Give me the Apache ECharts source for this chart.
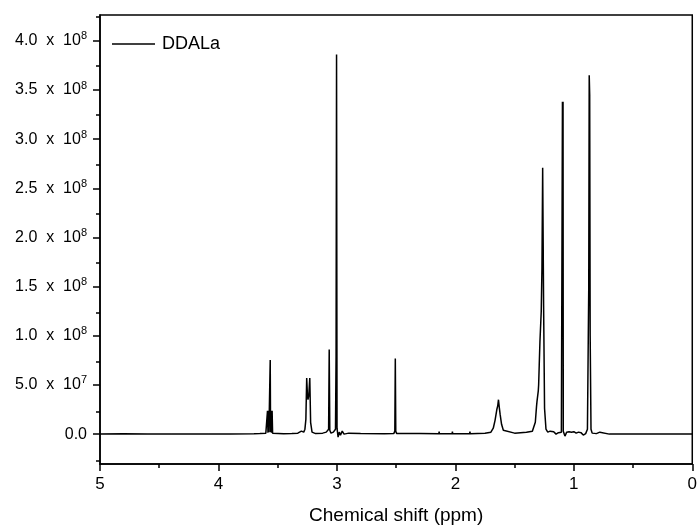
<!DOCTYPE html>
<html>
<head>
<meta charset="utf-8">
<script src="https://cdn.jsdelivr.net/npm/echarts@6/dist/echarts.min.js"></script>
<style>
html,body{margin:0;padding:0;background:#fff;}
#chart{width:700px;height:530px;}
</style>
</head>
<body>
<div id="chart"></div>
<script>
// Chemical shift (ppm) and intensity
const shift = [
  5.00, 4.80, 4.60, 4.40, 4.20, 4.08, 4.075, 4.07, 3.90, 3.70, 3.65, 3.60, 3.59,
  3.586, 3.582, 3.578, 3.574, 3.566, 3.563, 3.560, 3.555, 3.551, 3.547, 3.543, 3.53,
  3.45, 3.38, 3.33, 3.30, 3.295, 3.285, 3.28, 3.27, 3.262, 3.255, 3.249, 3.244, 3.237,
  3.229, 3.222, 3.21, 3.18, 3.12, 3.09, 3.07, 3.065, 3.06, 3.05, 3.03, 3.012, 3.007,
  3.003, 2.999, 2.99, 2.98, 2.97, 2.955, 2.94, 2.90, 2.80, 2.60, 2.52, 2.511, 2.507,
  2.503, 2.495, 2.30, 2.14, 2.137, 2.134, 2.028, 2.025, 2.022, 1.88, 1.877, 1.874,
  1.75, 1.70, 1.68, 1.665, 1.65, 1.642, 1.636, 1.630, 1.622, 1.61, 1.595, 1.58, 1.50,
  1.40, 1.35, 1.336, 1.325, 1.315, 1.311, 1.30, 1.297, 1.292, 1.286, 1.275, 1.269,
  1.263, 1.255, 1.247, 1.235, 1.22, 1.20, 1.19, 1.17, 1.15, 1.13, 1.105, 1.098, 1.096,
  1.094, 1.091, 1.089, 1.084, 1.075, 1.06, 1.04, 1.02, 1.00, 0.98, 0.96, 0.94, 0.92,
  0.90, 0.885, 0.878, 0.874, 0.870, 0.866, 0.862, 0.855, 0.845, 0.83, 0.81, 0.78,
  0.77, 0.70, 0.40, 0.00
];
const intensity = [
  2e5, 3e5, 1e5, 0, 1e5, 0, 1.2e6, 0, 1e5, 3e5, 5e5, 1e6, 1.5e6,
  2.37e7, 1.5e6, 2.37e7, 2e6, 2e6, 7.54e7, 2e6, 2.37e7, 1.5e6, 2.37e7, 1e6, 5e5,
  3e5, 5e5, 1e6, 3e6, 1e6, 4e6, 2e6, 5e6, 1.5e7, 5.7e7, 4.0e7, 3.5e7, 4.0e7,
  5.7e7, 1.2e7, 2e6, 5e5, 1e6, 2e6, 5e6, 8.6e7, 4e6, 1e6, 2e6, 5e6, 8.0e7,
  3.86e8, 6e6, -3e6, 2e6, -1e6, 3e6, 0, 1e6, 5e5, 3e5, 5e5, 3e6, 7.7e7,
  3e6, 5e5, 5e5, 3e5, 2.5e6, 3e5, 3e5, 2.5e6, 3e5, 3e5, 2.5e6, 3e5,
  8e5, 2e6, 6e6, 1.4e7, 2.5e7, 2.9e7, 3.5e7, 2.8e7, 2e7, 1e7, 4e6, 2e6, 1e6,
  2e6, 3e6, 5e6, 1.2e7, 2.8e7, 3.3e7, 4.4e7, 5.0e7, 7e7, 9.4e7, 1.25e8, 1.69e8,
  2.71e8, 1.3e8, 2.6e7, 5e6, 2e6, 3e6, 1e6, 2.5e6, 0, 1.5e6, 2e6, 3e6, 3.38e8,
  3.0e8, 3.38e8, 3e6, 3e6, -2e6, 2e6, 2.5e6, 2e6, 2.5e6, 1e6, 2e6, 1.5e6, -1e6,
  5e5, 5e6, 9.7e7, 1.48e8, 3.65e8, 3.45e8, 1.0e8, 5e6, 1e6, 2e6, 5e5, 2e6,
  0, 0, 0, 0
];
const seriesName = 'DDALa';
const yTickValues = [0, 5e7, 1e8, 1.5e8, 2e8, 2.5e8, 3e8, 3.5e8, 4e8];
const yTickBase = ['0.0', '5.0  x  10', '1.0  x  10', '1.5  x  10', '2.0  x  10', '2.5  x  10', '3.0  x  10', '3.5  x  10', '4.0  x  10'];
const yTickExp = ['', '7', '8', '8', '8', '8', '8', '8', '8'];
const yMinorTicks = [-2.5e7, 2.5e7, 7.5e7, 1.25e8, 1.75e8, 2.25e8, 2.75e8, 3.25e8, 3.75e8, 4.25e8];
const xTitle = 'Chemical shift (ppm)';

const data = shift.map((s, i) => [s, intensity[i]]);
const FONT = '"Liberation Sans", Arial, sans-serif';
const yMin = -3.04e7, yMax = 4.263e8;
const GRID = { left: 100, right: 5, top: 15, bottom: 64 };

const chart = echarts.init(document.getElementById('chart'));
chart.setOption({
  animation: false,
  backgroundColor: '#fff',
  textStyle: { fontFamily: FONT },
  grid: [
    Object.assign({ show: true, borderColor: '#000', borderWidth: 1.5, backgroundColor: 'transparent' }, GRID),
    Object.assign({ show: false }, GRID)
  ],
  legend: {
    left: 112, top: 35, padding: 0,
    icon: 'rect', itemWidth: 43, itemHeight: 1.5, itemGap: 7,
    textStyle: { fontFamily: FONT, fontSize: 18, color: '#000', padding: [0, 0, 0, 2] },
    data: [{ name: seriesName, itemStyle: { color: '#000' } }]
  },
  xAxis: [{
    type: 'value', min: 0, max: 5, interval: 1, inverse: true, gridIndex: 0,
    name: xTitle, nameLocation: 'middle', nameGap: 42,
    nameTextStyle: { fontFamily: FONT, fontSize: 19, color: '#000' },
    axisLine: { show: true, onZero: false, lineStyle: { color: '#000', width: 1.5 } },
    axisTick: { show: true, inside: false, length: 7, lineStyle: { color: '#000', width: 1.5 } },
    minorTick: { show: true, splitNumber: 2, length: 4, lineStyle: { color: '#000', width: 1.5 } },
    axisLabel: { fontFamily: FONT, fontSize: 17, color: '#000', margin: 12 },
    splitLine: { show: false }
  }, {
    type: 'value', min: 0, max: 5, inverse: true, gridIndex: 1, show: false,
    axisLine: { show: false, onZero: false }
  }],
  yAxis: [{
    type: 'value', min: yMin, max: yMax, position: 'left', gridIndex: 0,
    axisLine: { show: true, onZero: false, lineStyle: { color: '#000', width: 1.5 } },
    axisTick: { show: true, inside: false, length: 7, customValues: yTickValues, lineStyle: { color: '#000', width: 1.5 } },
    axisLabel: {
      customValues: yTickValues, margin: 13,
      formatter: function (v) {
        const i = yTickValues.indexOf(v);
        if (i < 0) return '';
        return yTickExp[i] ? '{b|' + yTickBase[i] + '}{s|' + yTickExp[i] + '}' : '{b|' + yTickBase[i] + '}';
      },
      rich: {
        b: { fontFamily: FONT, fontSize: 16, color: '#000' },
        s: { fontFamily: FONT, fontSize: 11, color: '#000', padding: [0, 0, 9, 0] }
      }
    },
    splitLine: { show: false }
  }, {
    // minor ticks on the left axis (drawn by an overlaid axis in an identical grid)
    type: 'value', min: yMin, max: yMax, position: 'left', gridIndex: 1,
    axisLine: { show: false, onZero: false },
    axisTick: { show: true, inside: false, length: 4, customValues: yMinorTicks, lineStyle: { color: '#000', width: 1.5 } },
    axisLabel: { show: false },
    splitLine: { show: false }
  }],
  series: [{
    name: seriesName, type: 'line', data: data, xAxisIndex: 0, yAxisIndex: 0,
    showSymbol: false, symbol: 'none', smooth: false,
    lineStyle: { color: '#000', width: 1.5 }, itemStyle: { color: '#000' }
  }]
});
</script>
</body>
</html>
